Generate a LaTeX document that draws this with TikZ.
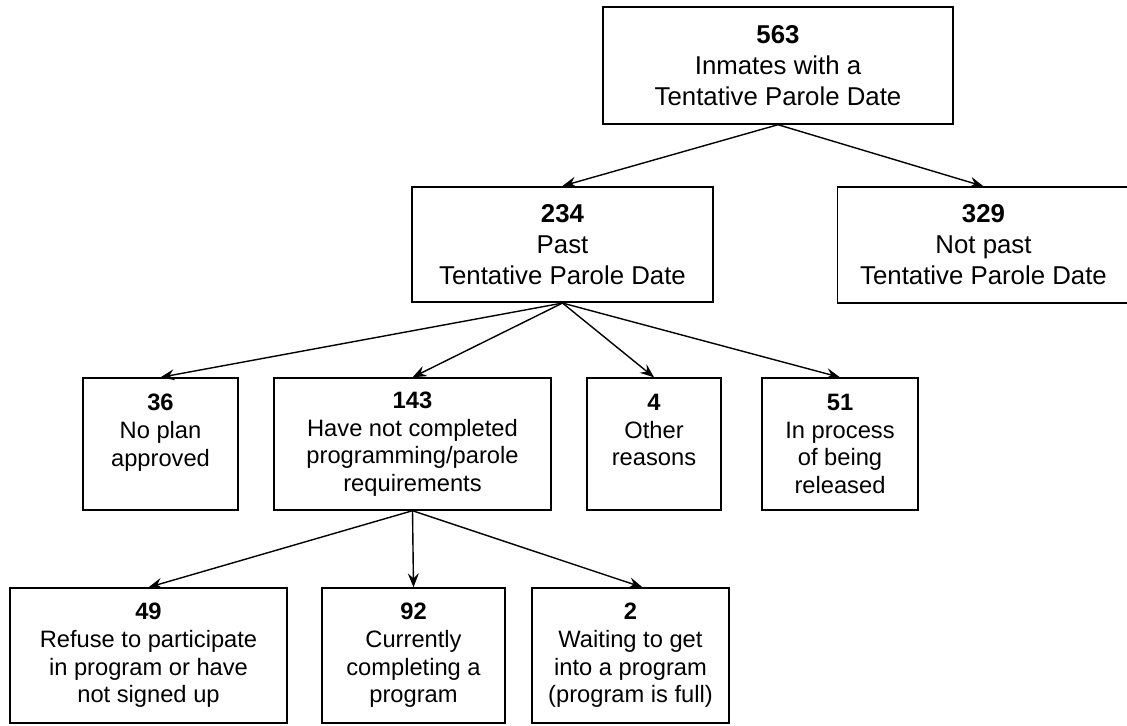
\documentclass[tikz,border=0pt]{standalone}
\usepackage{fontspec}
\setmainfont{Liberation Sans}
\usetikzlibrary{arrows.meta}

\begin{document}
\begin{tikzpicture}[
    x=0.5pt, y=-0.5pt,
    box/.style={draw, line width=0.7pt, align=center, inner sep=0pt},
    big/.style={box, font=\fontsize{12.9}{15.5}\selectfont},
    small/.style={box, font=\fontsize{11.85}{13.8}\selectfont, minimum height=66pt},
    line/.style={-{Stealth[length=7pt, width=5.5pt, inset=2.5pt]}, line width=0.7pt}
]
\useasboundingbox (0,0) rectangle (1127,725);
\node[big, minimum width=175pt, minimum height=58.5pt] (total) at (778,65.5) {\textbf{563}\\Inmates with a\\Tentative Parole Date};
\node[big, line width=1.05pt, minimum width=150.5pt, minimum height=57.5pt] (past) at (562.5,244.5) {\textbf{234}\\Past\\Tentative Parole Date};
\node[big, minimum width=146pt, minimum height=58pt] (notpast) at (983.5,245) {\textbf{329}\\Not past\\Tentative Parole Date};

\node[small, minimum width=77.5pt] (noplan) at (160.5,444) {\textbf{36}\\No plan\\approved\\~};
\node[small, minimum width=138.5pt] (notdone) at (412.5,444) {\textbf{143}\\Have not completed\\programming/parole\\requirements};
\node[small, minimum width=67pt] (other) at (654,444) {\textbf{4}\\Other\\reasons\\~};
\node[small, minimum width=78pt] (release) at (840,444) {\textbf{51}\\In process\\of being\\released};

\node[small, minimum width=138.5pt, minimum height=67.5pt] (refuse) at (148.5,655.5) {\textbf{49}\\Refuse to participate\\in program or have\\not signed up};
\node[small, minimum width=91.5pt, minimum height=67.5pt] (current) at (413.5,655.5) {\textbf{92}\\Currently\\completing a\\program};
\node[small, minimum width=98.5pt, minimum height=67.5pt] (waiting) at (630.5,655.5) {\textbf{2}\\Waiting to get\\into a program\\(program is full)};

\draw[line] (total.south) -- (past.north);
\draw[line] (total.south) -- (notpast.north);
\draw[line] (past.south) -- (noplan.north);
\draw[line] (past.south) -- (notdone.north);
\draw[line] (past.south) -- (other.north);
\draw[line] (past.south) -- (release.north);
\draw[line] (notdone.south) -- (refuse.north);
\draw[line] (notdone.south) -- (current.north);
\draw[line] (notdone.south) -- ([xshift=6pt]waiting.north);
\end{tikzpicture}
\end{document}
